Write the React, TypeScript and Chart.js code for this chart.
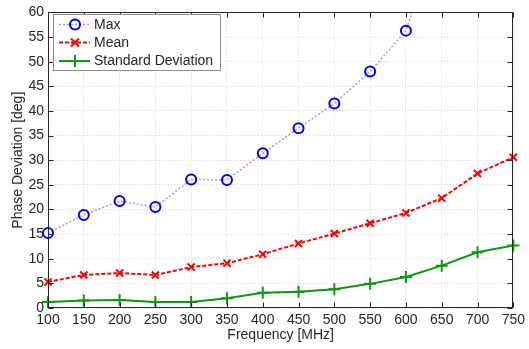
import React, { useEffect, useRef } from 'react';
import { Chart, registerables } from 'chart.js';

Chart.register(...registerables);

const frequencies = [100, 150, 200, 250, 300, 350, 400, 450, 500, 550, 600, 650, 700, 750];
const maxValues: (number | null)[] = [15.2, 18.9, 21.7, 20.5, 26.1, 26.0, 31.4, 36.5, 41.5, 48.0, 56.3, 78, null, null];
const meanValues = [5.3, 6.7, 7.1, 6.7, 8.3, 9.1, 10.9, 13.1, 15.1, 17.2, 19.3, 22.3, 27.3, 30.6];
const stdValues = [1.2, 1.5, 1.6, 1.2, 1.2, 2.0, 3.1, 3.3, 3.8, 4.9, 6.3, 8.6, 11.3, 12.7];
const seriesLabels = ['Max', 'Mean', 'Standard Deviation'];
const xTitle = 'Frequency [MHz]';
const yTitle = 'Phase Deviation [deg]';

const FONT = '"Liberation Sans", Arial, sans-serif';
const TEXT = '#262626';
const BLUE = '#0000ff';
const BLUE_LINE = '#9a9aff';
const RED = '#ff0000';
const GREEN = '#0f960f';

function drawMarker(ctx: CanvasRenderingContext2D, kind: string, x: number, y: number, color: string) {
  ctx.save();
  ctx.strokeStyle = color;
  ctx.lineWidth = 2;
  ctx.setLineDash([]);
  ctx.beginPath();
  if (kind === 'circle') {
    ctx.arc(x, y, 5, 0, Math.PI * 2);
  } else if (kind === 'x') {
    const r = 4;
    ctx.moveTo(x - r, y - r); ctx.lineTo(x + r, y + r);
    ctx.moveTo(x - r, y + r); ctx.lineTo(x + r, y - r);
  } else {
    const r = 6;
    ctx.moveTo(x - r, y); ctx.lineTo(x + r, y);
    ctx.moveTo(x, y - r); ctx.lineTo(x, y + r);
  }
  ctx.stroke();
  ctx.restore();
}

const framePlugin = {
  id: 'frameAndLegend',
  afterDraw(chart: any) {
    const ctx: CanvasRenderingContext2D = chart.ctx;
    const { left, right, top, bottom } = chart.chartArea;
    ctx.save();
    ctx.strokeStyle = TEXT;
    ctx.lineWidth = 1;
    ctx.setLineDash([]);
    const l = Math.round(left) + 0.5, r = Math.round(right) - 0.5;
    const t = Math.round(top) + 0.5, b = Math.round(bottom) - 0.5;
    ctx.strokeRect(l, t, r - l, b - t);
    const xs = chart.scales.x, ys = chart.scales.y;
    ctx.beginPath();
    xs.ticks.forEach((tk: any) => {
      const px = Math.round(xs.getPixelForValue(tk.value)) + 0.5;
      ctx.moveTo(px, b); ctx.lineTo(px, b - 5);
      ctx.moveTo(px, t); ctx.lineTo(px, t + 5);
    });
    ys.ticks.forEach((tk: any) => {
      const py = Math.round(ys.getPixelForValue(tk.value)) + 0.5;
      ctx.moveTo(l, py); ctx.lineTo(l + 5, py);
      ctx.moveTo(r, py); ctx.lineTo(r - 5, py);
    });
    ctx.stroke();

    // legend
    const bx = 53.5, by = 14.5, bw = 167, bh = 56;
    ctx.fillStyle = '#ffffff';
    ctx.fillRect(bx, by, bw, bh);
    ctx.strokeStyle = '#8c8c8c';
    ctx.strokeRect(bx, by, bw, bh);
    const rows = [
      { y: 24.5, color: BLUE_LINE, mColor: BLUE, dash: [2, 2], w: 1.5, marker: 'circle' },
      { y: 42.5, color: RED, mColor: RED, dash: [4, 2], w: 2, marker: 'x' },
      { y: 61, color: GREEN, mColor: GREEN, dash: [], w: 2, marker: 'plus' },
    ];
    ctx.font = `14px ${FONT}`;
    ctx.textBaseline = 'middle';
    ctx.textAlign = 'left';
    rows.forEach((row, i) => {
      ctx.save();
      ctx.strokeStyle = row.color;
      ctx.lineWidth = row.w;
      ctx.setLineDash(row.dash);
      ctx.beginPath();
      ctx.moveTo(59, row.y); ctx.lineTo(90, row.y);
      ctx.stroke();
      ctx.restore();
      drawMarker(ctx, row.marker, 75, row.y, row.mColor);
      ctx.fillStyle = TEXT;
      ctx.fillText(seriesLabels[i], 94, row.y + 0.5);
    });
    ctx.restore();
  },
};

export default function App() {
  const ref = useRef<HTMLCanvasElement>(null);
  useEffect(() => {
    document.body.style.margin = '0';
    const canvas = ref.current!;
    const font = { family: FONT, size: 14 };
    const chart = new Chart(canvas, {
      type: 'line',
      data: {
        labels: frequencies,
        datasets: [
          {
            label: seriesLabels[0],
            data: frequencies.map((f, i) => ({ x: f, y: maxValues[i] as any })),
            borderColor: BLUE_LINE,
            borderWidth: 1.5,
            borderDash: [2, 2],
            pointStyle: 'circle',
            pointRadius: 5,
            pointBorderWidth: 2,
            pointBorderColor: BLUE,
            pointBackgroundColor: 'rgba(0,0,0,0)',
            clip: { left: 10, right: 10, top: 0, bottom: 10 } as any,
            spanGaps: false,
          },
          {
            label: seriesLabels[1],
            data: frequencies.map((f, i) => ({ x: f, y: meanValues[i] })),
            borderColor: RED,
            borderWidth: 2,
            borderDash: [4, 2],
            pointStyle: 'crossRot',
            pointRadius: 5,
            pointBorderWidth: 2,
            pointBorderColor: RED,
            pointBackgroundColor: RED,
            clip: 10 as any,
          },
          {
            label: seriesLabels[2],
            data: frequencies.map((f, i) => ({ x: f, y: stdValues[i] })),
            borderColor: GREEN,
            borderWidth: 2,
            pointStyle: 'cross',
            pointRadius: 6,
            pointBorderWidth: 2,
            pointBorderColor: GREEN,
            pointBackgroundColor: GREEN,
            clip: 10 as any,
          },
        ],
      },
      options: {
        animation: false,
        responsive: false,
        maintainAspectRatio: false,
        layout: { padding: { top: 8, right: 12, left: 0, bottom: 0 } },
        plugins: { legend: { display: false }, tooltip: { enabled: false } },
        elements: { line: { tension: 0 } },
        scales: {
          x: {
            type: 'linear',
            min: 100,
            max: 750,
            ticks: { stepSize: 50, color: TEXT, font, padding: 4, autoSkip: false, maxRotation: 0 },
            grid: { color: '#d4d4d4', drawTicks: false, lineWidth: 1 },
            border: { display: false, dash: [1, 2] },
            title: { display: true, text: xTitle, color: TEXT, font, padding: { top: 0, bottom: 5 } },
            afterFit: (s: any) => { s.height = 41; },
          },
          y: {
            min: 0,
            max: 60,
            ticks: { stepSize: 5, color: TEXT, font, padding: 4 },
            grid: { color: '#d4d4d4', drawTicks: false, lineWidth: 1 },
            border: { display: false, dash: [1, 2] },
            title: { display: true, text: yTitle, color: TEXT, font, padding: { top: 10, bottom: 0 } },
            afterFit: (s: any) => { s.width = 48; },
          },
        },
      },
      plugins: [framePlugin],
    });
    return () => chart.destroy();
  }, []);
  return (
    <div style={{ width: 529, height: 349 }}>
      <canvas ref={ref} width={529} height={349} style={{ display: 'block', width: 529, height: 349 }} />
    </div>
  );
}
